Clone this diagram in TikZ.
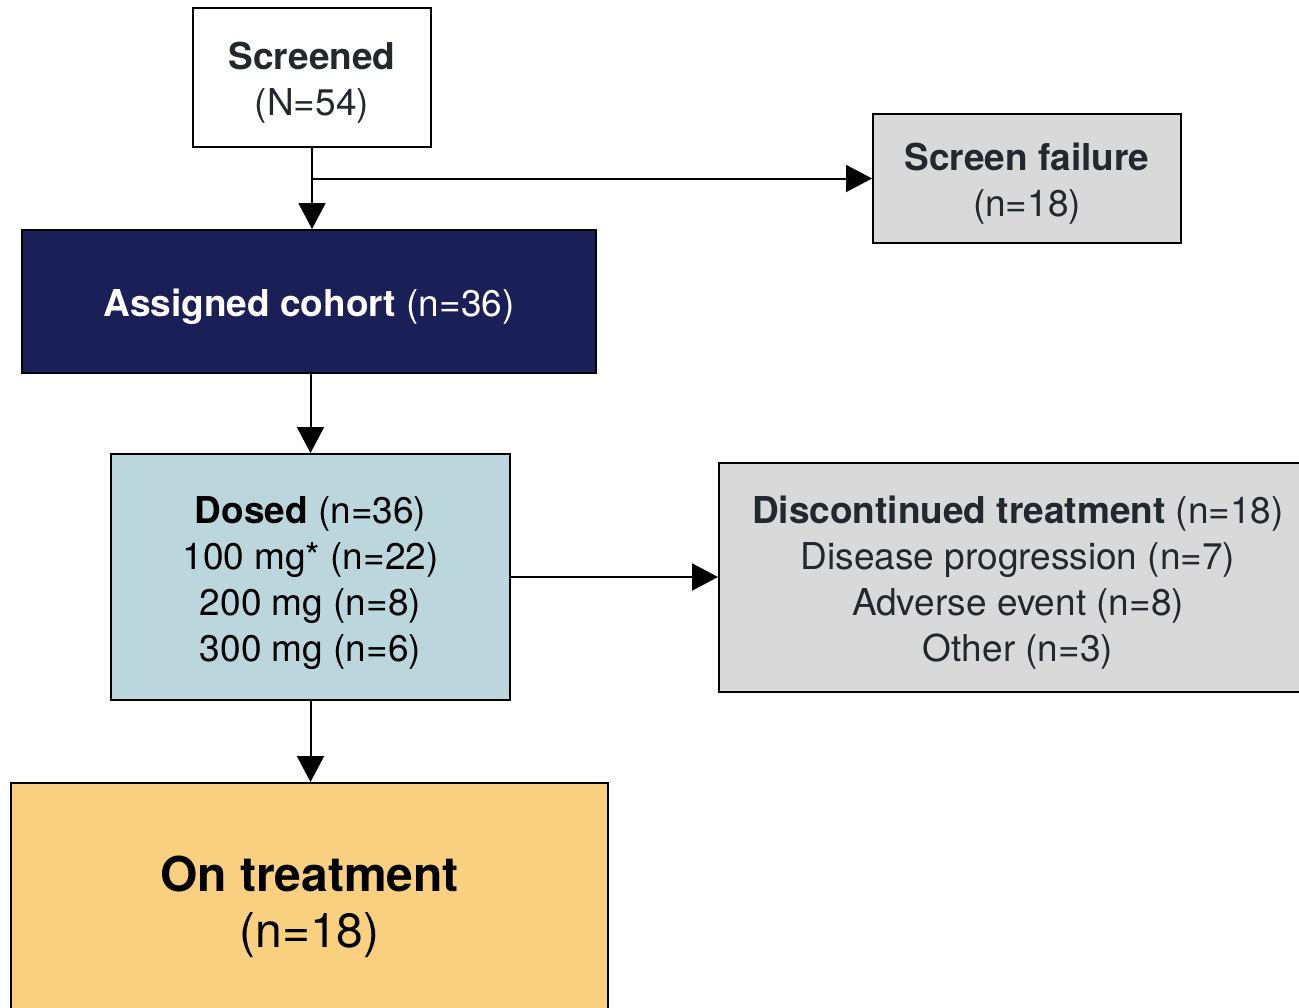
\documentclass[tikz,border=0pt]{standalone}
\usepackage{fontspec}
\setmainfont{TeX Gyre Heros}
\usepackage{tikz}
\usetikzlibrary{arrows.meta,calc}

\definecolor{navy}{HTML}{1B1F57}
\definecolor{paleblue}{HTML}{BCD6DE}
\definecolor{boxgrey}{HTML}{D9D9D9}
\definecolor{amber}{HTML}{F8D07F}
\definecolor{inkgrey}{HTML}{23272E}
\newcommand{\topgap}{\rule{0pt}{1.03em}}

\begin{document}
\begin{tikzpicture}[x=0.5pt,y=-0.5pt,->,>={Triangle[length=13pt,width=13.5pt]},
  line width=1pt,
  flow node/.style={rectangle,draw=black,line width=1pt,align=center,inner sep=0pt,
    font=\fontsize{18.5}{23}\selectfont,text=inkgrey}]

\useasboundingbox (0,0) rectangle (1299,1007);

\node[flow node,fill=white,minimum width=119pt,minimum height=69.5pt](Scr) at (312,77.5) {\topgap\textbf{Screened}\\(N=54)};
\node[flow node,fill=boxgrey,minimum width=154pt,minimum height=64.5pt](Fail) at (1027,178.5) {\topgap\textbf{Screen failure}\\(n=18)};
\node[flow node,fill=navy,text=white,minimum width=287pt,minimum height=71.5pt](Asg) at (309,301.5) {\topgap\textbf{Assigned cohort} (n=36)};
\node[flow node,fill=paleblue,text=black,minimum width=199.5pt,minimum height=123pt](Dos) at (310.5,577) {\topgap\textbf{Dosed} (n=36)\\100 mg* (n=22)\\200 mg (n=8)\\300 mg (n=6)};
\node[flow node,fill=boxgrey,minimum width=299pt,minimum height=114.5pt](Disc) at (1018,577.5) {\topgap\textbf{Discontinued treatment} (n=18)\\Disease progression (n=7)\\Adverse event (n=8)\\Other (n=3)};
\node[flow node,fill=amber,text=black,font=\fontsize{24}{28}\selectfont,minimum width=298.5pt,minimum height=117pt](Tx) at (309.5,900) {\topgap\textbf{On treatment}\\(n=18)};

\coordinate (Br) at (Scr.south |- Fail.west);

\path
(Scr.south) edge (Scr.south |- Asg.north)
(Br) edge (Fail.west)
(Dos.north |- Asg.south) edge (Dos.north)
(Dos.east) edge (Dos.east -| Disc.west)
(Dos.south) edge (Dos.south |- Tx.north);
\end{tikzpicture}
\end{document}
